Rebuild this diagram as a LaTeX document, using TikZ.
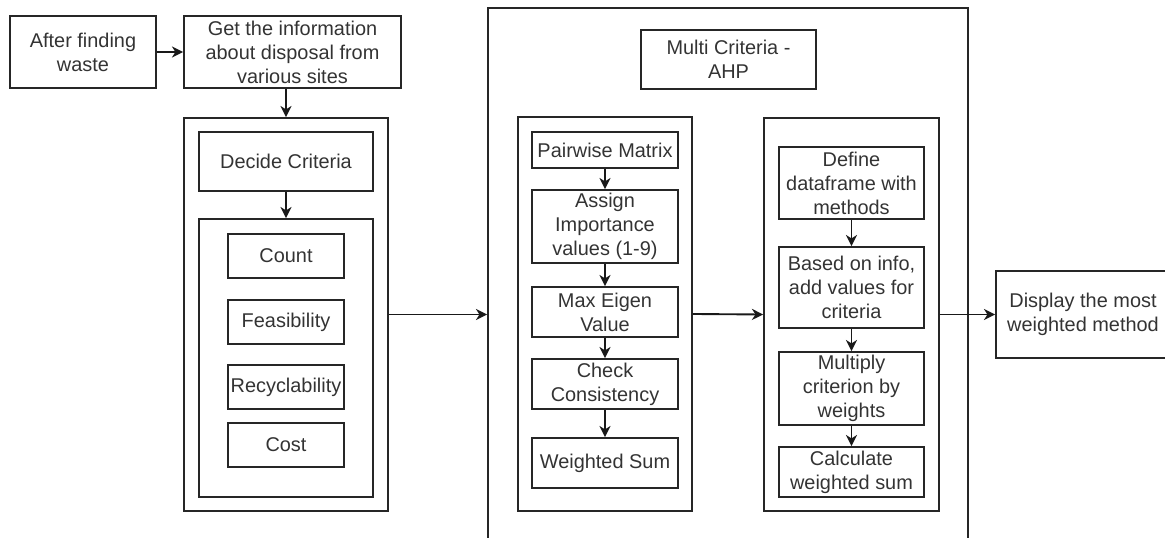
\documentclass[tikz,border=0pt]{standalone}
\usepackage{fontspec}
\setmainfont{Liberation Sans}
\usetikzlibrary{arrows.meta}

\tikzset{
    blk/.style={draw=black!85, line width=1.6pt, inner sep=0pt, align=center,
        text=black!80, font=\fontsize{17}{20.5}\selectfont},
    flow/.style={-{Stealth[length=9.5pt,width=9.5pt,inset=3pt]}, line width=1.6pt, black!90},
}

\begin{document}
\begin{tikzpicture}[x=0.03cm, y=-0.03cm]
            \useasboundingbox (0,0) rectangle (1165,538);
            \newcommand{\blk}[6]{
                \node[blk, minimum width={(#4-#2)*0.03cm}, minimum height={(#5-#3)*0.03cm}]
                    (#1) at ({(#2+#4)/2}, {(#3+#5)/2}) {#6};
            }
            \blk{find}{10}{16}{156}{88}{After finding\\waste};
            \blk{info}{184}{16}{401}{88}{Get the information\\about disposal from\\various sites};
            \blk{crit}{184}{118}{388}{511}{};
            \blk{decide}{199}{132}{373}{191}{Decide Criteria};
            \blk{list}{199}{219}{373}{497}{};
            \blk{count}{228}{234}{344}{278}{Count};
            \blk{feas}{228}{300}{344}{344}{Feasibility};
            \blk{recyc}{228}{365}{344}{409}{Recyclability};
            \blk{cost}{228}{423}{344}{467}{Cost};
            \blk{mcda}{488}{8}{968}{548}{};
            \blk{ahp}{641}{30}{816}{89}{Multi Criteria -\\AHP};
            \blk{weights}{518}{117}{692}{511}{};
            \blk{pair}{532}{132}{678}{168}{Pairwise Matrix};
            \blk{assign}{532}{190}{678}{263}{Assign\\Importance\\values (1-9)};
            \blk{eigen}{532}{287}{678}{337}{Max Eigen\\Value};
            \blk{check}{532}{359}{678}{409}{Check\\Consistency};
            \blk{wsum}{532}{438}{678}{488}{Weighted Sum};
            \blk{score}{764}{118}{939}{511}{};
            \blk{frame}{779}{147}{924}{219}{Define\\dataframe with\\methods};
            \blk{values}{779}{247}{924}{328}{Based on info,\\add values for\\criteria};
            \blk{mult}{779}{352}{924}{425}{Multiply\\criterion by\\weights};
            \blk{calc}{779}{447}{924}{497}{Calculate\\weighted sum};
            \blk{show}{996}{271}{1170}{358}{Display the most\\weighted method};
            \draw[flow] (find.east) -- (info.west);
            \draw[flow] (info.south -| crit.north) -- (crit.north);
            \draw[flow] (decide.south) -- (list.north);
            \draw[flow] (crit.east) -- (crit.east -| mcda.west);
            \draw[flow] (pair.south) -- (assign.north);
            \draw[flow] (assign.south) -- (eigen.north);
            \draw[flow] (eigen.south) -- (check.north);
            \draw[flow] (check.south) -- (wsum.north);
            \draw[flow] (weights.east) -- (score.west);
            \draw[flow] (frame.south) -- (values.north);
            \draw[flow] (values.south) -- (mult.north);
            \draw[flow] (mult.south) -- (calc.north);
            \draw[flow] (score.east) -- (show.west);
        \end{tikzpicture}
\end{document}
